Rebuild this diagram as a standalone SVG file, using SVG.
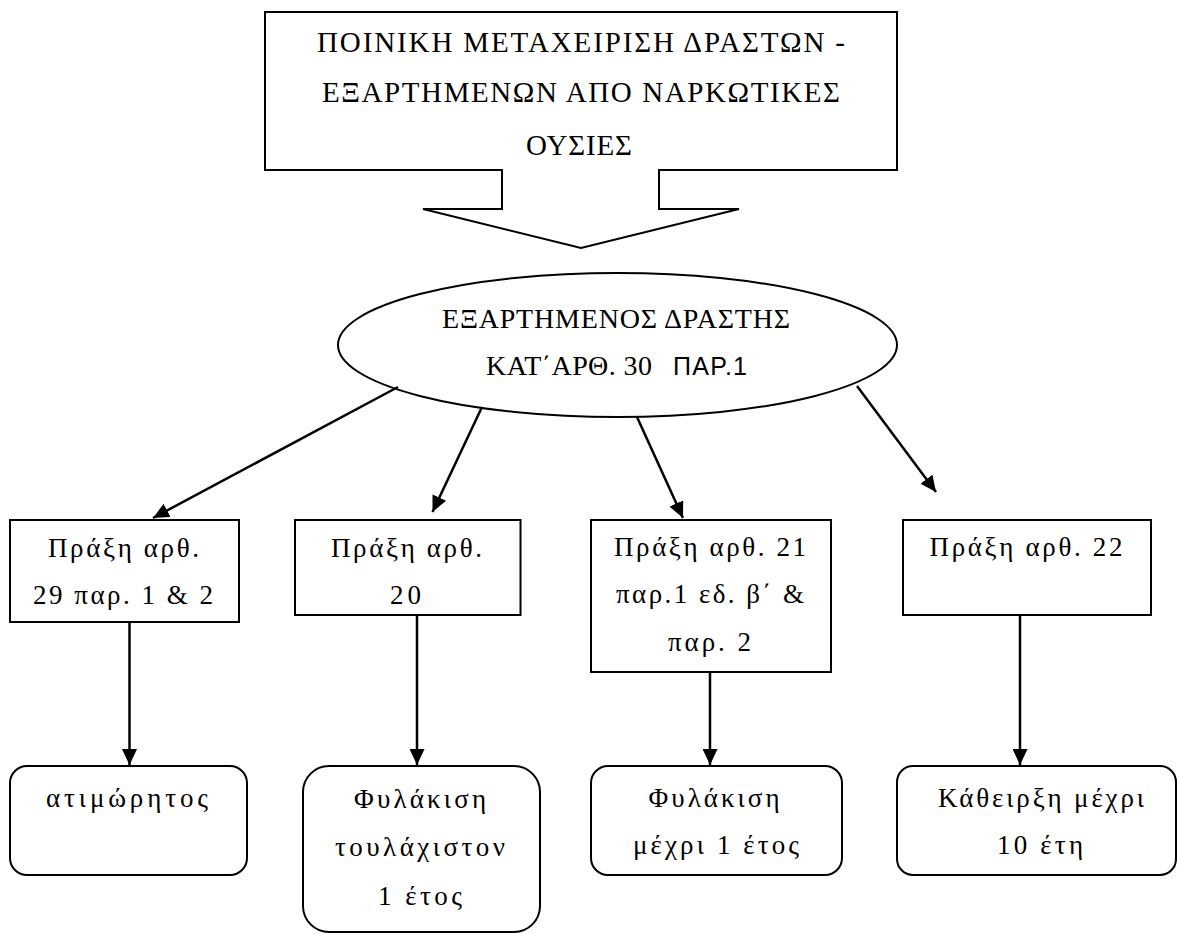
<svg xmlns="http://www.w3.org/2000/svg" width="1177" height="934" viewBox="0 0 1177 934">
<defs>
<marker id="ah" markerWidth="16" markerHeight="15" refX="16" refY="7.5" orient="auto" markerUnits="userSpaceOnUse"><path d="M0,0 L16,7.5 L0,15 Z" fill="#000"/></marker>
<style>
.t{font-family:"Liberation Serif","DejaVu Serif",serif;font-size:27px;fill:#000;text-anchor:middle}
.tt{font-size:29px}
.te{font-size:28px}
.ts{font-family:"Liberation Sans","DejaVu Sans",sans-serif;font-size:25px;fill:#000}
.box{fill:#fff;stroke:#000;stroke-width:2}
.conn{stroke:#000;stroke-width:2.5;fill:none;marker-end:url(#ah)}
</style>
</defs>
<rect width="1177" height="934" fill="#fff"/>
<g id="title">
<path class="box" d="M265,12 H897 V170 H659 V209 H739 L581,248 L423,209 H502 V170 H265 Z"/>
<text class="t tt" x="581" y="52" textLength="528" lengthAdjust="spacing">ΠΟΙΝΙΚΗ ΜΕΤΑΧΕΙΡΙΣΗ ΔΡΑΣΤΩΝ -</text>
<text class="t tt" x="581" y="102" textLength="518" lengthAdjust="spacing">ΕΞΑΡΤΗΜΕΝΩΝ ΑΠΟ ΝΑΡΚΩΤΙΚΕΣ</text>
<text class="t tt" x="579" y="155" textLength="106" lengthAdjust="spacing">ΟΥΣΙΕΣ</text>
</g>
<g id="offender">
<ellipse class="box" cx="617.5" cy="345" rx="279.5" ry="72"/>
<text class="t te" x="616" y="328" textLength="348" lengthAdjust="spacing">ΕΞΑΡΤΗΜΕΝΟΣ ΔΡΑΣΤΗΣ</text>
<text class="t te" x="486" y="375" style="text-anchor:start" textLength="166" lengthAdjust="spacing">ΚΑΤ΄ΑΡΘ. 30</text>
<text class="ts" x="673" y="375" textLength="74" lengthAdjust="spacing">ΠΑΡ.1</text>
</g>
<g id="act29">
<rect class="box" x="10" y="520" width="229" height="102"/>
<text class="t" x="123.5" y="557" textLength="151" lengthAdjust="spacing">Πράξη αρθ.</text>
<text class="t" x="123" y="604" textLength="180" lengthAdjust="spacing">29 παρ. 1 &amp; 2</text>
</g>
<g id="act20">
<rect class="box" x="295" y="520" width="225.5" height="95"/>
<text class="t" x="406.5" y="557" textLength="151" lengthAdjust="spacing">Πράξη αρθ.</text>
<text class="t" x="405.5" y="604" textLength="31" lengthAdjust="spacing">20</text>
</g>
<g id="act21">
<rect class="box" x="591" y="520" width="240" height="152"/>
<text class="t" x="710" y="556" textLength="192" lengthAdjust="spacing">Πράξη αρθ. 21</text>
<text class="t" x="710" y="603" textLength="188" lengthAdjust="spacing">παρ.1 εδ. β΄ &amp;</text>
<text class="t" x="709.5" y="651" textLength="83" lengthAdjust="spacing">παρ. 2</text>
</g>
<g id="act22">
<rect class="box" x="903" y="520" width="248" height="95"/>
<text class="t" x="1026" y="556" textLength="193" lengthAdjust="spacing">Πράξη αρθ. 22</text>
</g>
<g id="res1">
<rect class="box" x="10" y="766" width="237" height="109" rx="17" ry="17"/>
<text class="t" x="127" y="807" textLength="162" lengthAdjust="spacing">ατιμώρητος</text>
</g>
<g id="res2">
<rect class="box" x="303" y="766" width="237" height="166" rx="26" ry="26"/>
<text class="t" x="420" y="808" textLength="132" lengthAdjust="spacing">Φυλάκιση</text>
<text class="t" x="420" y="856" textLength="170" lengthAdjust="spacing">τουλάχιστον</text>
<text class="t" x="420" y="905" textLength="84" lengthAdjust="spacing">1 έτος</text>
</g>
<g id="res3">
<rect class="box" x="591" y="766" width="251" height="109" rx="17" ry="17"/>
<text class="t" x="714" y="807" textLength="131" lengthAdjust="spacing">Φυλάκιση</text>
<text class="t" x="716" y="854" textLength="166" lengthAdjust="spacing">μέχρι 1 έτος</text>
</g>
<g id="res4">
<rect class="box" x="897" y="766" width="279" height="109" rx="16" ry="16"/>
<text class="t" x="1041" y="807" textLength="206" lengthAdjust="spacing">Κάθειρξη μέχρι</text>
<text class="t" x="1040" y="854" textLength="86" lengthAdjust="spacing">10 έτη</text>
</g>
<g id="connectors">
<path class="conn" d="M398,387 L153,518"/>
<path class="conn" d="M482,407 L432.5,512"/>
<path class="conn" d="M637,417 L683,518"/>
<path class="conn" d="M857,386 L936,492"/>
<path class="conn" d="M129.5,622 L129.5,765"/>
<path class="conn" d="M417,615 L417,765"/>
<path class="conn" d="M710,672 L710,765"/>
<path class="conn" d="M1020,615 L1020,765"/>
</g>
</svg>
